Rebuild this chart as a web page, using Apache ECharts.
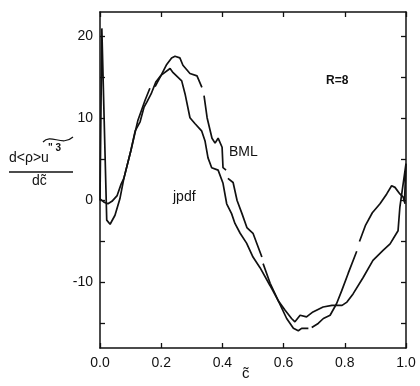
<!DOCTYPE html>
<html>
<head>
<meta charset="utf-8">
<script src="https://cdn.jsdelivr.net/npm/echarts@6/dist/echarts.min.js"></script>
<style>
  html, body { margin: 0; padding: 0; background: #fff; }
  #chart { width: 420px; height: 386px; }
</style>
</head>
<body>
<div id="chart"></div>
<script>
// BML curve, c~ and d<rho>u''^3/dc~ (null = break in the trace)
const bmlC = [0, 0.006, 0.022, 0.033, 0.049, 0.065, 0.078, 0.101, 0.124, 0.147, 0.163, 0.168,
  0.18, 0.2, 0.218, 0.234, 0.245, 0.261, 0.271, 0.294, 0.317, 0.333, 0.336,
  0.34, 0.35, 0.366, 0.376, 0.386, 0.399, 0.402, 0.412, 0.415,
  0.418, 0.435, 0.448, 0.464, 0.48, 0.5, 0.529, 0.531,
  0.533, 0.556, 0.582, 0.61, 0.632, 0.648, 0.659, 0.681, 0.686,
  0.692, 0.713, 0.73, 0.752, 0.773, 0.79, 0.811, 0.839, 0.843,
  0.848, 0.868, 0.89, 0.915, 0.937, 0.953, 0.964, 0.98, 0.991, 0.997];
const bmlV = [0, 21, -2.4, -2.9, -1.8, 0.2, 2.7, 6.1, 9.8, 12.2, 13.7, null,
  13.9, 15.3, 16.6, 17.4, 17.6, 17.4, 16.5, 15.5, 15.2, 13.8, null,
  12.8, 10.1, 7.6, 7.0, 7.6, 6.5, 4.0, 3.7, null,
  2.7, 2.2, 0, -1.6, -3.3, -4.0, -6.9, null,
  -7.7, -10.1, -12.2, -14.4, -15.6, -15.9, -15.6, -15.6, null,
  -15.5, -15.0, -14.4, -14.0, -12.6, -11.0, -8.9, -6.2, null,
  -5.0, -3.0, -1.5, -0.4, 0.8, 1.8, 1.6, 0.8, 0.4, -0.4];

// jpdf curve
const jpdfC = [0, 0.013, 0.026, 0.039, 0.056, 0.069, 0.078, 0.101, 0.115, 0.131, 0.144, 0.153,
  0.167, 0.183, 0.2, 0.229, 0.239, 0.267, 0.278, 0.294, 0.31, 0.332, 0.343, 0.353,
  0.365, 0.386, 0.402, 0.414, 0.43, 0.441, 0.458, 0.479, 0.5, 0.523, 0.556, 0.582,
  0.605, 0.626, 0.637, 0.654, 0.675, 0.696, 0.729, 0.758, 0.791, 0.807, 0.827,
  0.86, 0.892, 0.925, 0.948, 0.964, 0.974, 0.98, 1.0, 0.995];
const jpdfV = [0.2, -0.2, -0.4, -0.1, 0.6, 2.0, 2.7, 6.1, 8.5, 9.6, 11.4, 12.0,
  13.0, 14.5, 15.3, 16.1, 15.6, 14.6, 13.0, 10.1, 9.4, 8.5, 7.3, 5.2,
  4.0, 3.7, 2.1, -0.4, -1.6, -2.8, -4.0, -5.2, -6.9, -8.2, -10.4, -12.2,
  -13.4, -14.4, -14.8, -14.0, -14.2, -13.6, -13.0, -12.8, -12.8, -12.4, -11.4,
  -9.4, -7.3, -6.1, -5.3, -4.3, -3.7, -0.8, 4.5, -0.2];

const yTicks = [-15, -10, -5, 0, 5, 10, 15, 20];
const yLabels = [-10, 0, 10, 20];

const INK = '#111';
const FONT = '"Liberation Sans", Arial, sans-serif';

function pairs(xs, ys) {
  return xs.map((x, i) => [x, ys[i] === null ? '-' : ys[i]]);
}

const chart = echarts.init(document.getElementById('chart'), null, { renderer: 'canvas' });

const frameAxisLine = { show: true, onZero: false, lineStyle: { color: INK, width: 1.5 } };
const innerTick = { show: true, inside: true, length: 5, lineStyle: { color: INK, width: 1.3 } };

chart.setOption({
  animation: false,
  backgroundColor: '#fff',
  grid: { left: 100, right: 14, top: 12, bottom: 38 },
  xAxis: [
    {
      type: 'value', min: 0, max: 1, interval: 0.2, position: 'bottom',
      axisLine: frameAxisLine, axisTick: innerTick, splitLine: { show: false },
      axisLabel: { color: INK, fontSize: 14, fontFamily: FONT, margin: 8,
        formatter: v => v.toFixed(1) }
    },
    {
      type: 'value', min: 0, max: 1, interval: 0.2, position: 'top',
      axisLine: frameAxisLine, axisTick: innerTick, splitLine: { show: false },
      axisLabel: { show: false }
    }
  ],
  yAxis: [
    {
      type: 'value', min: -18, max: 23, position: 'left',
      axisLine: frameAxisLine,
      axisTick: Object.assign({}, innerTick, { customValues: yTicks }),
      splitLine: { show: false },
      axisLabel: { color: INK, fontSize: 14, fontFamily: FONT, margin: 7,
        customValues: yLabels }
    },
    {
      type: 'value', min: -18, max: 23, position: 'right',
      axisLine: frameAxisLine,
      axisTick: Object.assign({}, innerTick, { customValues: yTicks }),
      splitLine: { show: false },
      axisLabel: { show: false }
    }
  ],
  series: [
    {
      name: 'BML', type: 'line', data: pairs(bmlC, bmlV),
      showSymbol: false, symbol: 'none', connectNulls: false,
      lineStyle: { color: INK, width: 1.7 }
    },
    {
      name: 'jpdf', type: 'line', data: pairs(jpdfC, jpdfV),
      showSymbol: false, symbol: 'none',
      lineStyle: { color: INK, width: 1.7 }
    }
  ],
  graphic: [
    // y-axis title as a fraction
    { type: 'text', left: 9, top: 151, style: { text: 'd<ρ>u', font: '14px ' + FONT, fill: INK } },
    { type: 'text', left: 48, top: 143, style: { text: '" 3', font: 'bold 10px ' + FONT, fill: INK } },
    { type: 'bezierCurve', shape: { x1: 43, y1: 142, cpx1: 51, cpy1: 133, cpx2: 62, cpy2: 147, x2: 73, y2: 137 },
      style: { stroke: INK, lineWidth: 1.2, fill: null } },
    { type: 'line', shape: { x1: 9, y1: 172, x2: 73, y2: 172 }, style: { stroke: INK, lineWidth: 1.3 } },
    { type: 'text', left: 32, top: 174, style: { text: 'dc\u0303', font: '14px ' + FONT, fill: INK } },
    // x-axis title
    { type: 'text', left: 242, top: 366, style: { text: 'c\u0303', font: '15px ' + FONT, fill: INK } },
    // annotations
    { type: 'text', left: 326, top: 75, style: { text: 'R=8', font: 'bold 12px ' + FONT, fill: INK } },
    { type: 'text', left: 229, top: 145, style: { text: 'BML', font: '14px ' + FONT, fill: INK } },
    { type: 'text', left: 173, top: 190, style: { text: 'jpdf', font: '14px ' + FONT, fill: INK } }
  ]
});
</script>
</body>
</html>
